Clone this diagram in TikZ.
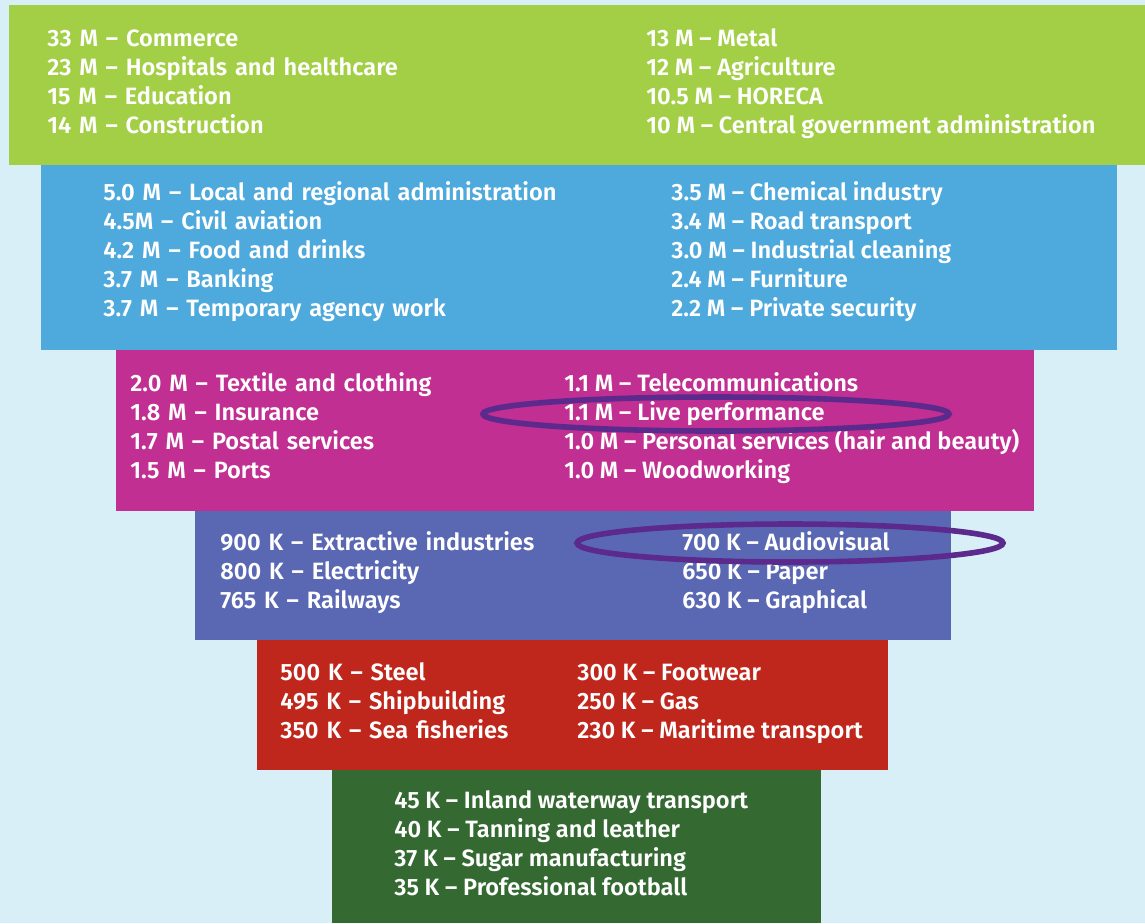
\documentclass[tikz,border=0pt]{standalone}
\usepackage{fontspec}
\setmainfont{Fira Sans}[BoldFont={Fira Sans SemiBold}]
\usetikzlibrary{matrix,positioning}
\definecolor{bgsky}{HTML}{D9EFF8}
\definecolor{lvgreen}{HTML}{A3CF47}
\definecolor{lvblue}{HTML}{4EA9DC}
\definecolor{lvmag}{HTML}{C02F91}
\definecolor{lvpur}{HTML}{5A68B4}
\definecolor{lvred}{HTML}{C0271C}
\definecolor{lvdark}{HTML}{346A32}
\definecolor{ringcol}{HTML}{5B2A8C}

\begin{document}
\begin{tikzpicture}[x=0.5pt,y=-0.5pt,
  lmat/.style={matrix of nodes,inner sep=0pt,column sep=0pt,row sep=2.5pt,anchor=north west,
    nodes={inner sep=0pt,anchor=base west,text height=9pt,text depth=3pt,
      font=\fontsize{11.8}{14}\selectfont\bfseries,text=white}},
  col1/.style={column 1/.style={nodes={text width=#1,align=left}}},
  ring/.style={draw=ringcol,line width=2.8pt}]
 \useasboundingbox[fill=bgsky] (0,0) rectangle (1145,923);
 % levels of the pyramid
 \fill[lvgreen] (9,5) rectangle (1145,165);
 \fill[lvblue] (41,165) rectangle (1117,350);
 \fill[lvmag] (116,350) rectangle (1034,511);
 \fill[lvpur] (195,511) rectangle (951,640);
 \fill[lvred] (257,640) rectangle (888,770);
 \fill[lvdark] (332,770) rectangle (821,923);

 \matrix[lmat,col1=299.5pt] (GRN) at (47,28)
  {33 M – Commerce & 13 M – Metal\\
   23 M – Hospitals and healthcare & 12 M – Agriculture\\
   15 M – Education & 10.5 M – HORECA\\
   14 M – Construction & 10 M – Central government administration\\};
 \matrix[lmat,col1=284pt] (BLU) at (103,182)
  {5.0 M – Local and regional administration & 3.5 M – Chemical industry\\
   4.5M – Civil aviation & 3.4 M – Road transport\\
   4.2 M – Food and drinks & 3.0 M – Industrial cleaning\\
   3.7 M – Banking & 2.4 M – Furniture\\
   3.7 M – Temporary agency work & 2.2 M – Private security\\};
 \matrix[lmat,col1=217pt] (MAG) at (130,373)
  {2.0 M – Textile and clothing & 1.1 M – Telecommunications\\
   1.8 M – Insurance & 1.1 M – Live performance\\
   1.7 M – Postal services & 1.0 M – Personal services (hair and beauty)\\
   1.5 M – Ports & 1.0 M – Woodworking\\};
 \matrix[lmat,col1=231pt] (PUR) at (220,532)
  {900 K – Extractive industries & 700 K – Audiovisual\\
   800 K – Electricity & 650 K – Paper\\
   765 K – Railways & 630 K – Graphical\\};
 \matrix[lmat,col1=148.5pt] (RED) at (280,662)
  {500 K – Steel & 300 K – Footwear\\
   495 K – Shipbuilding & 250 K – Gas\\
   350 K – Sea fisheries & 230 K – Maritime transport\\};
 \matrix[lmat] (DKG) at (394,790)
  {45 K – Inland waterway transport\\
   40 K – Tanning and leather\\
   37 K – Sugar manufacturing\\
   35 K – Professional football\\};

 % highlighted sectors
 \draw[ring] (716,414) ellipse [x radius=116.5pt,y radius=8.5pt];
 \draw[ring] (790,543) ellipse [x radius=106.5pt,y radius=9.5pt];
\end{tikzpicture}
\end{document}
